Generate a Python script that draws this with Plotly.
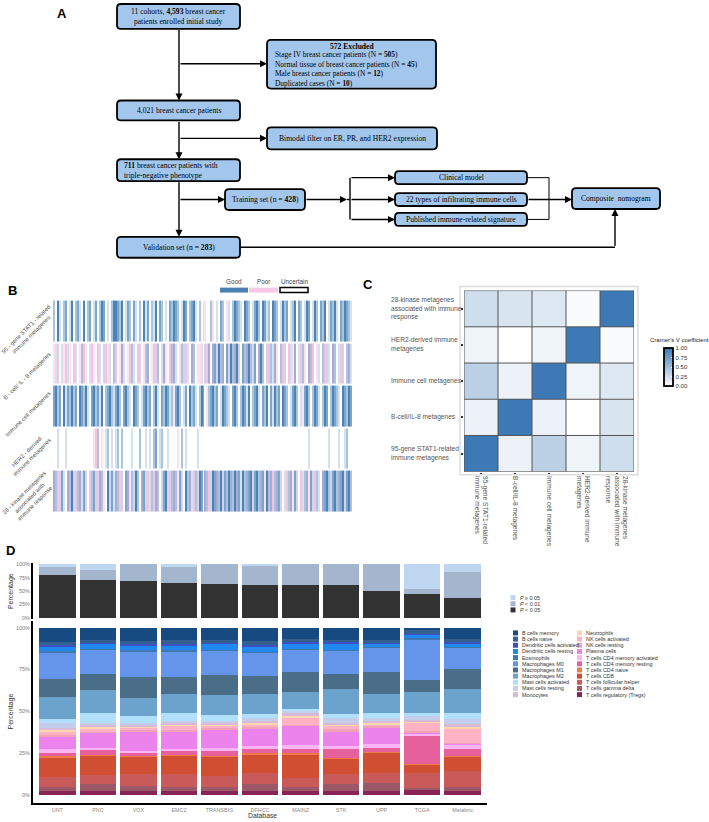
import plotly.graph_objects as go

W, H = 709, 822


def px(x):
    return x / W


def py(y):
    return 1 - y / H


# ---------------- Panel B data (stripe levels per patient) ----------------
# codes: . white, p light pink, P pink, u light purple, U purple, l pale blue, b light blue, B blue, D dark blue
b_labels = ["95 - gene STAT1 - related<br>immune metagenes", "B - cell/ IL - 8 metagenes",
            "Immune cell metagenes", "HER2 - derived<br>immune metagenes",
            "28 - kinase metagenes<br>associated with<br>immune response"]
row_stat1 = ("b.Dl.bB.lD .bBl.D.bB. lB.bDB.l.b DDBbD.lBb. Bl.b.DlB.b lD.Bb.l.Bb DBb.lDB.bB "
             "Dl.b.lp..b p.l.Bb.pl. bDBbl.DBb. lBDb.DBlb. DBb.lDbB.l bD.Bb.lDB. lDb.BbD.lB bDl.BbDBbl")
row_bcell = ("plP.lpPlp. Pl.pbPp.lP p.Pl.uPpl. bP.pUl.pPb l.Pu.pbU.p uPb.lUp.Pb Ul.pbuPl.U "
             "b.ppl.PuU. UBuDbU.BuD bUDu.BbUDb uB.UDb.uPb lUp.bPu.Pl pU.lPbp.Ub P.pl.bPul. Ub.lPu.bUl")
row_immune = ("BDbB.DlBbD bB.DBbDl.B DbBlD.bBDb lBDb.BDbl. DBb.lBDbB. bDl.BbDBlb pBDb.lB.Db "
              "Bl.bDB.pbB DbB.lDBbl. BDb.bDBlD. bBDl.BbD.B lDbB.DBb.l BDb.lpBDb. bDBl.bDB.b DBbl.DBbDB")
row_her2 = ("..l...l... .......... pPb.p.lb.l .lb.b....l ...b..l.l. bB.lb..l.. ..p.b.l... "
            "..l....... .......... .......... .......... .......... ........l. ........l. ...l..lb..")
row_kinase = ("UbPuBl.UbD uPbUlBu.Pb BuPUbp.DuB lUbPu.BUpb uDb.UBuPlb PUb.uBDuPb UbpBu.DbUl "
              "PbuDB.UbPu DBUbDuBbDU bDUBlDbUBD uBDbUBpDbU PbUBu.lPbU pBu.PlbUpB uPbl.UBDbu BDbUBDuBDb")
b_codes = ".pPuUlbBD"
b_colors = ["#FFFFFF", "#FBE2F2", "#F5C2E2", "#D6D2EA", "#ADA8D4", "#D3E2EE", "#A8C5DE", "#7BA6CC", "#4D83B6"]

# ---------------- Panel C data ----------------
c_labels = ["95-gene STAT1-related<br>immune metagenes", "B-cell/IL-8 metagenes", "Immune cell metagenes",
            "HER2-derived immune<br>metagenes", "28-kinase metagenes<br>associated with immune<br>response"]
cramer_stat1 = [1.00, 0.10, 0.35, 0.08, 0.25]
cramer_bcell = [0.10, 1.00, 0.10, 0.00, 0.20]
cramer_immune = [0.35, 0.10, 1.00, 0.08, 0.17]
cramer_her2 = [0.08, 0.00, 0.08, 1.00, 0.03]
cramer_kinase = [0.25, 0.20, 0.17, 0.03, 1.00]

# ---------------- Panel D data ----------------
datasets = ["UNT", "PNC", "VOX", "EMC2", "TRANSBIG", "DFHCC", "MAINZ", "STK", "UPP", "TCGA", "Metabric"]
p_lt_005 = [79.6, 71.6, 68.0, 66.0, 63.0, 62.0, 60.5, 60.5, 50.5, 44.0, 38.0]
p_lt_001 = [15.4, 17.4, 32.0, 29.0, 37.0, 36.0, 39.5, 39.5, 49.5, 10.0, 47.0]
p_ge_005 = [5.0, 11.0, 0.0, 5.0, 0.0, 2.0, 0.0, 0.0, 0.0, 46.0, 15.0]

b_memory = [8.6, 7.2, 8.2, 7.6, 7.2, 8.2, 7.0, 7.2, 7.6, 1.6, 7.0]
b_naive = [2.0, 1.8, 1.8, 2.0, 1.8, 2.4, 1.6, 1.4, 1.0, 2.0, 1.8]
dc_activated = [0.4, 0.6, 0.6, 1.0, 0.6, 0.6, 0.6, 0.6, 1.0, 0.6, 0.6]
dc_resting = [3.0, 3.0, 3.0, 2.8, 3.6, 3.2, 3.4, 4.0, 2.0, 2.0, 2.0]
eosinophils = [0.8, 0.4, 0.4, 0.6, 0.4, 0.6, 0.4, 0.4, 0.4, 0.8, 0.6]
macro_m0 = [15.8, 14.6, 15.6, 15.6, 14.8, 13.6, 13.6, 14.0, 14.6, 24.5, 12.6]
macro_m1 = [10.9, 9.9, 12.3, 9.9, 11.9, 10.9, 11.9, 9.3, 12.9, 7.0, 12.3]
macro_m2 = [12.9, 13.3, 10.9, 11.3, 11.9, 12.3, 9.9, 14.9, 11.3, 12.3, 13.9]
mast_activated = [2.3, 5.9, 4.3, 5.0, 3.6, 2.4, 1.4, 2.0, 3.4, 2.0, 4.0]
mast_resting = [3.0, 1.6, 1.2, 0.9, 0.9, 1.6, 1.4, 2.9, 1.6, 2.6, 2.5]
monocytes = [1.4, 1.2, 0.8, 1.0, 1.0, 1.1, 1.0, 1.0, 0.9, 0.4, 2.0]
neutrophils = [1.0, 0.8, 0.6, 1.0, 1.0, 0.8, 1.6, 1.0, 1.0, 0.9, 0.8]
nk_activated = [2.0, 1.8, 1.6, 2.6, 1.4, 1.6, 4.3, 2.0, 1.2, 5.0, 8.6]
nk_resting = [0.6, 0.6, 0.8, 0.8, 0.6, 0.8, 0.6, 1.0, 0.8, 1.0, 0.3]
plasma = [7.9, 8.9, 11.5, 10.5, 10.9, 10.5, 11.3, 8.9, 9.9, 0.6, 1.0]
cd4_mem_activated = [2.0, 1.6, 1.0, 1.0, 2.0, 2.0, 2.6, 2.0, 2.0, 1.4, 2.6]
cd4_mem_resting = [2.2, 2.8, 2.0, 2.4, 2.8, 2.4, 2.0, 5.0, 2.4, 16.5, 4.0]
cd4_naive = [0.8, 0.6, 0.6, 0.6, 0.8, 0.6, 1.0, 0.6, 0.6, 0.3, 0.6]
cd8 = [11.5, 11.3, 10.3, 10.9, 11.3, 10.9, 13.9, 9.3, 11.9, 5.0, 8.3]
t_fh = [5.9, 5.6, 6.9, 7.9, 6.9, 7.0, 5.5, 6.0, 6.0, 9.3, 9.9]
t_gd = [2.4, 4.3, 3.4, 2.4, 2.4, 3.9, 2.8, 4.3, 4.9, 0.6, 2.0]
tregs = [2.6, 2.2, 2.2, 2.2, 2.2, 2.6, 2.2, 2.2, 2.6, 3.6, 2.6]

cell_types = ["B cells memory", "B cells naive", "Dendritic cells activated", "Dendritic cells resting",
              "Eosinophils", "Macrophages M0", "Macrophages M1", "Macrophages M2", "Mast cells activated",
              "Mast cells resting", "Monocytes", "Neutrophils", "NK cells activated", "NK cells resting",
              "Plasma cells", "T cells CD4 memory activated", "T cells CD4 memory resting",
              "T cells CD4 naive", "T cells CD8", "T cells follicular helper", "T cells gamma delta",
              "T cells regulatory (Tregs)"]
cell_values = [b_memory, b_naive, dc_activated, dc_resting, eosinophils, macro_m0, macro_m1, macro_m2,
               mast_activated, mast_resting, monocytes, neutrophils, nk_activated, nk_resting, plasma,
               cd4_mem_activated, cd4_mem_resting, cd4_naive, cd8, t_fh, t_gd, tregs]
cell_colors = ["#174A80", "#33608E", "#3C52C4", "#2088EE", "#3F78B0", "#6495EA", "#4A6D88", "#6BA3CD",
               "#B0E0FC", "#C4CEEC", "#D6BAD6", "#FFD6B2", "#FFB2C4", "#F2A2B8", "#EC82EC", "#FBB4F4",
               "#E6609C", "#F07A4C", "#D04E32", "#C85A5A", "#9A5868", "#8A2456"]

SERIF = "Liberation Serif"
SANS = "Liberation Sans"

fig = go.Figure()
shapes = []
annots = []


def line(x0, y0, x1, y1, w=1.4, c="black"):
    shapes.append(dict(type="line", xref="paper", yref="paper", x0=px(x0), y0=py(y0), x1=px(x1), y1=py(y1),
                       line=dict(color=c, width=w)))


def arrow(x0, y0, x1, y1, w=1.4):
    annots.append(dict(x=px(x1), y=py(y1), xref="paper", yref="paper", ax=x0 - x1, ay=y0 - y1,
                       axref="pixel", ayref="pixel", showarrow=True, arrowhead=2, arrowsize=1.0,
                       arrowwidth=w, arrowcolor="black", text="", standoff=0, startstandoff=0))


def txt(x, y, s, size=7.6, family=SERIF, color="black", xanchor="center", align="center", angle=0,
        yanchor="middle"):
    annots.append(dict(x=px(x), y=py(y), xref="paper", yref="paper", text=s, showarrow=False,
                       font=dict(size=size, family=family, color=color), xanchor=xanchor, yanchor=yanchor,
                       align=align, textangle=angle))


def rbox(x0, y0, x1, y1, r=4, fill="#A3C7EC", lw=1.8):
    P = lambda x, y: f"{px(x):.5f},{py(y):.5f}"
    path = (f"M {P(x0 + r, y0)} L {P(x1 - r, y0)} Q {P(x1, y0)} {P(x1, y0 + r)} "
            f"L {P(x1, y1 - r)} Q {P(x1, y1)} {P(x1 - r, y1)} "
            f"L {P(x0 + r, y1)} Q {P(x0, y1)} {P(x0, y1 - r)} "
            f"L {P(x0, y0 + r)} Q {P(x0, y0)} {P(x0 + r, y0)} Z")
    shapes.append(dict(type="path", path=path, xref="paper", yref="paper", fillcolor=fill,
                       line=dict(color="black", width=lw)))


# ---------------- Panel A: flowchart ----------------
txt(62, 12, "<b>A</b>", size=13, family=SANS)
rbox(117, 2, 240, 27)
txt(178.5, 14.5, "11 cohorts, <b>4,593</b> breast cancer<br>patients enrolled initial study")
rbox(267, 38, 436, 87)
txt(351.5, 45, "<b>572 Excluded</b>")
txt(273, 67.5, "Stage IV breast cancer patients (N = <b>505</b>)<br>Normal tissue of breast cancer patients (N = <b>45</b>)"
    "<br>Male breast cancer patients (N = <b>12</b>)<br>Duplicated cases (N = <b>10</b>)",
    xanchor="left", align="left", size=7.4)
rbox(117, 99, 240, 119)
txt(178.5, 109, "4,021 breast cancer patients")
rbox(267, 126, 437, 148)
txt(352, 137, "Bimodal filter on ER, PR, and HER2 expression")
rbox(117, 158, 240, 180)
txt(122, 169, "<b>711</b> breast cancer patients with<br>triple-negative phenotype", xanchor="left", align="left")
rbox(225, 188, 305, 209)
txt(265, 198.5, "Training set (n = <b>428</b>)")
rbox(395, 170, 527, 183)
txt(461, 176.5, "Clinical model")
rbox(395, 192, 527, 205)
txt(461, 198.5, "22 types of infiltrating immune cells")
rbox(395, 212, 527, 225)
txt(461, 218.5, "Published immune-related signature")
rbox(572, 187, 660, 208)
txt(616, 197.5, "Composite  nomogram")
rbox(117, 236, 240, 257)
txt(178.5, 246.5, "Validation set (n = <b>283</b>)")

arrow(179, 27, 179, 99)
arrow(179, 62, 267, 62)
arrow(179, 119, 179, 158)
arrow(179, 137, 267, 137)
arrow(179, 180, 179, 236)
arrow(179, 198.5, 225, 198.5)
arrow(305, 198.5, 347, 198.5)
line(347, 198.5, 350, 198.5)
line(350, 176.5, 350, 218.5)
arrow(350, 176.5, 395, 176.5)
arrow(350, 198.5, 395, 198.5)
arrow(350, 218.5, 395, 218.5)
line(527, 176.5, 549, 176.5, w=1)
line(527, 218.5, 549, 218.5, w=1)
line(549, 176.5, 549, 218.5, w=1)
arrow(527, 198.5, 572, 198.5)
line(240, 246.5, 615, 246.5)
arrow(615, 246.5, 615, 208)

# ---------------- Panel B: stripe heatmap ----------------
txt(12, 290, "<b>B</b>", size=13, family=SANS)
b_rows = [row_stat1, row_bcell, row_immune, row_her2, row_kinase]
b_z = [[b_codes.index(c) for c in r.replace(" ", "")] for r in b_rows]
nb = len(b_colors)
b_scale = []
for i, c in enumerate(b_colors):
    b_scale += [[i / nb, c], [(i + 1) / nb, c]]
fig.add_trace(go.Heatmap(z=b_z, x=list(range(len(b_z[0]))), y=list(range(5)), colorscale=b_scale,
                         zmin=-0.5, zmax=nb - 0.5, showscale=False, ygap=2, xaxis="x", yaxis="y",
                         hoverinfo="skip"))
b_label_pos = [(29, 332), (27, 376), (28, 414), (29, 455), (30, 498)]
for lab, (lx, ly) in zip(b_labels, b_label_pos):
    txt(lx, ly, lab, size=5.8, family=SANS, color="#555555", angle=-45)
# legend for B
shapes.append(dict(type="rect", xref="paper", yref="paper", x0=px(220), x1=px(248), y0=py(287), y1=py(292),
                   fillcolor="#4D80B2", line=dict(width=0)))
shapes.append(dict(type="rect", xref="paper", yref="paper", x0=px(249), x1=px(278), y0=py(287), y1=py(292),
                   fillcolor="#F8C8E8", line=dict(width=0)))
shapes.append(dict(type="rect", xref="paper", yref="paper", x0=px(280), x1=px(308), y0=py(287), y1=py(292),
                   fillcolor="white", line=dict(color="black", width=1.5)))
txt(234, 281, "Good", size=6.3, family=SANS, color="#444444")
txt(263, 281, "Poor", size=6.3, family=SANS, color="#444444")
txt(294, 281, "Uncertain", size=6.3, family=SANS, color="#444444")

# ---------------- Panel C: Cramer's V heatmap ----------------
txt(368, 284, "<b>C</b>", size=13, family=SANS)
c_z = [cramer_stat1, cramer_bcell, cramer_immune, cramer_her2, cramer_kinase]
fig.add_trace(go.Heatmap(z=c_z, x=list(range(5)), y=list(range(5)), zmin=0, zmax=1,
                         colorscale=[[0, "#FFFFFF"], [1, "#3D79B5"]], xaxis="x2", yaxis="y2",
                         hoverinfo="skip",
                         colorbar=dict(x=px(664), xanchor="left", y=py(367), yanchor="middle", len=38,
                                       lenmode="pixels", thickness=9, thicknessmode="pixels",
                                       outlinewidth=1.8, outlinecolor="black",
                                       tickvals=[0, 0.25, 0.5, 0.75, 1],
                                       ticktext=["0.00", "0.25", "0.50", "0.75", "1.00"],
                                       tickfont=dict(size=6, color="#333333", family=SANS),
                                       ticks="inside", tickcolor="white", ticklen=2, xpad=0, ypad=0)))
txt(648, 340, "Cramer's V coefficient", size=6, family=SANS, color="#222222", xanchor="left")
shapes.append(dict(type="rect", xref="paper", yref="paper", x0=px(460), x1=px(638), y0=py(475), y1=py(286),
                   line=dict(color="#DDDDDD", width=1.5), fillcolor="rgba(0,0,0,0)"))
for k in range(6):
    shapes.append(dict(type="line", xref="x2", yref="y2", x0=k - 0.5, x1=k - 0.5, y0=-0.5, y1=4.5,
                       line=dict(color="#555555", width=1)))
    shapes.append(dict(type="line", xref="x2", yref="y2", x0=-0.5, x1=4.5, y0=k - 0.5, y1=k - 0.5,
                       line=dict(color="#555555", width=1)))
row_h = (472 - 290) / 5
for i, lab in enumerate(c_labels):
    yc = 472 - row_h * (i + 0.5)
    txt(389, yc, lab, size=6.6, family=SANS, color="#555555", xanchor="left", align="left")

# ---------------- Panel D: stacked bars ----------------
txt(10, 551, "<b>D</b>", size=13, family=SANS)
for vals, col in [(p_lt_005, "#333333"), (p_lt_001, "#A4B6CD"), (p_ge_005, "#BED6EF")]:
    fig.add_trace(go.Bar(x=datasets, y=vals, marker=dict(color=col, line=dict(width=0)), width=0.9,
                         xaxis="x3", yaxis="y3", showlegend=False, hoverinfo="skip"))
for name, vals, col in reversed(list(zip(cell_types, cell_values, cell_colors))):
    fig.add_trace(go.Bar(x=datasets, y=vals, name=name, marker=dict(color=col, line=dict(width=0)),
                         width=0.9, xaxis="x4", yaxis="y4", showlegend=False, hoverinfo="skip"))

txt(11, 592, "Percentage", size=7, family=SANS, color="#333333", angle=-90)
txt(11, 713, "Percentage", size=7, family=SANS, color="#333333", angle=-90)
txt(262, 817.5, "Database", size=6.8, family=SANS, color="#333333")

# P legend
p_items = [("<i>P</i> ≥ 0.05", "#BED6EF"), ("<i>P</i> < 0.01", "#A4B6CD"), ("<i>P</i> < 0.05", "#333333")]
for k, (lab, col) in enumerate(p_items):
    yc = 598.5 + 6.2 * k
    shapes.append(dict(type="rect", xref="paper", yref="paper", x0=px(510.5), x1=px(515.5), y0=py(yc + 2.5),
                       y1=py(yc - 2.5), fillcolor=col, line=dict(width=0)))
    txt(518, yc, lab, size=5.4, family=SANS, color="#333333", xanchor="left")
# cell legend (two columns)
for k, (lab, col) in enumerate(zip(cell_types, cell_colors)):
    colno, rowno = divmod(k, 11)
    bx = 513 if colno == 0 else 577
    yc = 634 + 6.2 * rowno
    shapes.append(dict(type="rect", xref="paper", yref="paper", x0=px(bx), x1=px(bx + 5), y0=py(yc + 2.5),
                       y1=py(yc - 2.5), fillcolor=col, line=dict(width=0)))
    txt(bx + 6.5, yc, lab, size=5.4, family=SANS, color="#333333", xanchor="left")

pct_ticks = [0, 25, 50, 75, 100]
pct_text = ["0%", "25%", "50%", "75%", "100%"]

fig.update_layout(
    width=W, height=H, margin=dict(l=0, r=0, t=0, b=0), paper_bgcolor="white",
    plot_bgcolor="rgba(0,0,0,0)", barmode="stack", bargap=0.1, showlegend=False,
    font=dict(family=SANS),
    xaxis=dict(domain=[px(53), px(352)], range=[-0.5, len(b_z[0]) - 0.5], visible=False, anchor="y"),
    yaxis=dict(domain=[py(513), py(299)], range=[4.5, -0.5], visible=False, anchor="x"),
    xaxis2=dict(domain=[px(464), px(634)], range=[-0.5, 4.5], anchor="y2", tickvals=list(range(5)),
                ticktext=c_labels, tickangle=90, tickfont=dict(size=6.6, color="#555555"),
                ticks="outside", ticklen=2, tickwidth=2, tickcolor="#333333", showgrid=False,
                zeroline=False, showline=False),
    yaxis2=dict(domain=[py(472), py(290)], range=[-0.5, 4.5], anchor="x2", tickvals=list(range(5)),
                showticklabels=False, ticks="outside", ticklen=2, tickwidth=2, tickcolor="#333333",
                showgrid=False, zeroline=False, showline=False),
    xaxis3=dict(domain=[px(33), px(487)], range=[-0.6, 10.6], anchor="y3", showticklabels=False,
                showgrid=False, zeroline=False, showline=False, ticks=""),
    yaxis3=dict(domain=[py(620), py(564)], range=[-1.85, 101.85], anchor="x3", tickvals=pct_ticks,
                ticktext=pct_text, tickfont=dict(size=5.4, color="#777777"), showgrid=False,
                zeroline=False, showline=True, linecolor="black", linewidth=2, ticks=""),
    xaxis4=dict(domain=[px(33), px(487)], range=[-0.6, 10.6], anchor="y4",
                tickfont=dict(size=5.4, color="#888888"), showgrid=False, zeroline=False, showline=True,
                linecolor="black", linewidth=2, ticks=""),
    yaxis4=dict(domain=[py(805), py(622)], range=[-4.76, 104.0], anchor="x4", tickvals=pct_ticks,
                ticktext=pct_text, tickfont=dict(size=5.4, color="#777777"), showgrid=False,
                zeroline=False, showline=True, linecolor="black", linewidth=2, ticks=""),
    shapes=shapes, annotations=annots,
)

fig.write_html("out.html", config={"displayModeBar": False},
               post_script="document.body.style.margin='0';document.body.style.overflow='hidden';")
